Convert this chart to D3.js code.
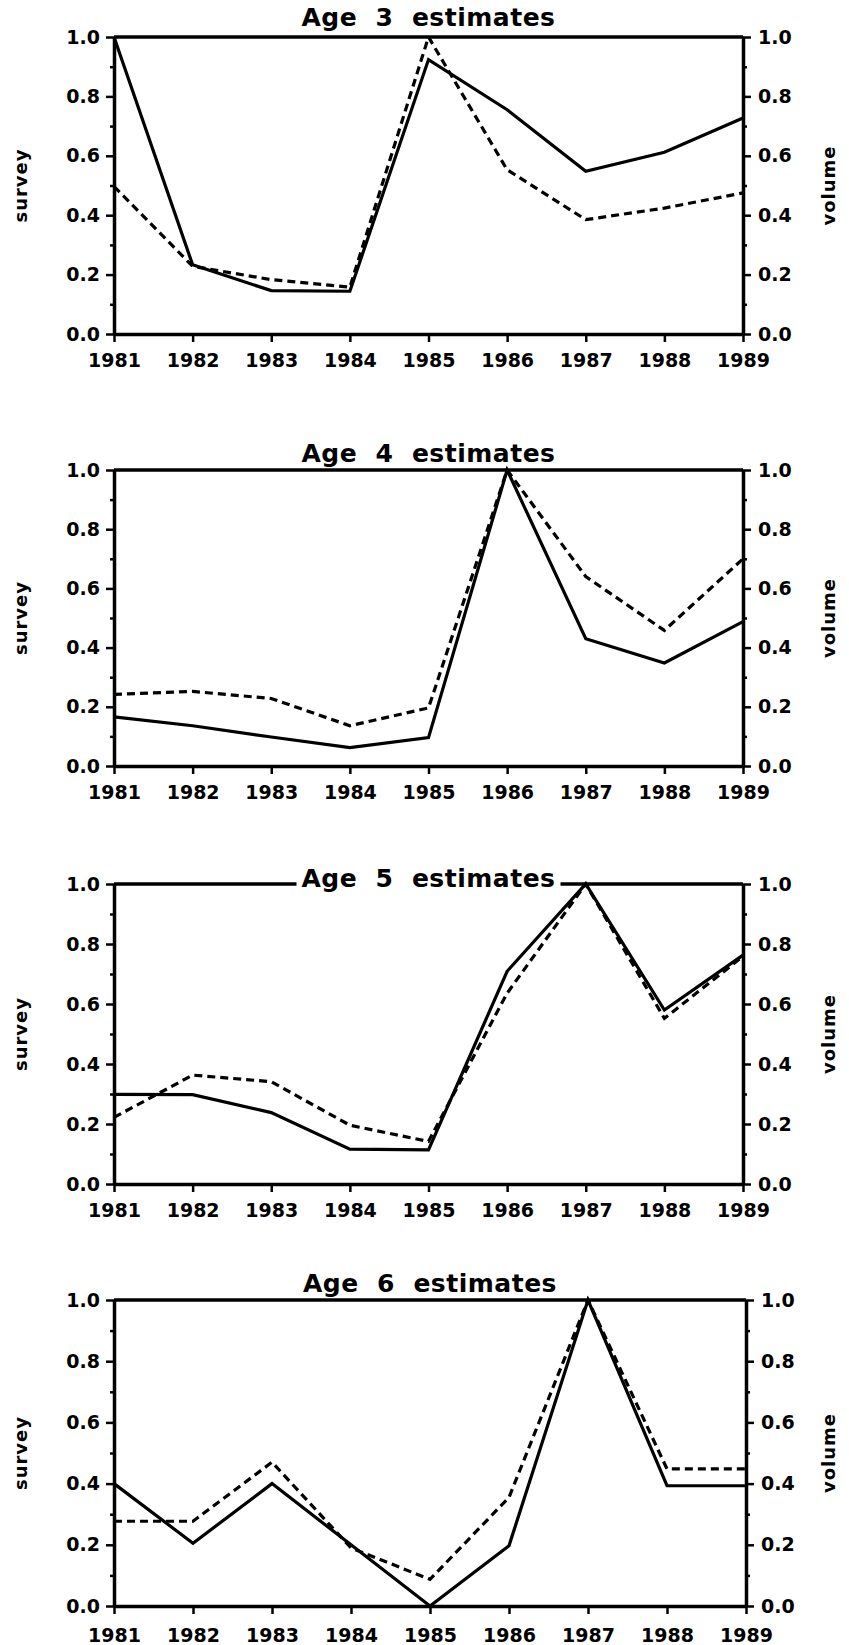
<!DOCTYPE html>
<html>
<head>
<meta charset="utf-8">
<script src="https://cdn.jsdelivr.net/npm/d3@7"></script>
<style>
  body { margin: 0; background: #fff; }
  text { font-family: 'DejaVu Sans', sans-serif; font-weight: bold; fill: #000; }
</style>
</head>
<body>
<svg width="849" height="1645"></svg>
<script>
let years = [1981, 1982, 1983, 1984, 1985, 1986, 1987, 1988, 1989]

let survey3 = [1.0, 0.233, 0.146, 0.144, 0.924, 0.755, 0.548, 0.612, 0.727]
let volume3 = [0.497, 0.228, 0.183, 0.158, 1.0, 0.553, 0.385, 0.424, 0.475]

let survey4 = [0.166, 0.136, 0.098, 0.062, 0.096, 1.0, 0.43, 0.348, 0.488]
let volume4 = [0.242, 0.252, 0.228, 0.136, 0.196, 1.0, 0.64, 0.458, 0.70]

let survey5 = [0.299, 0.298, 0.238, 0.116, 0.114, 0.709, 1.0, 0.58, 0.763]
let volume5 = [0.222, 0.363, 0.341, 0.196, 0.142, 0.636, 1.0, 0.552, 0.759]

let survey6 = [0.40, 0.205, 0.40, 0.20, 0.0, 0.197, 1.0, 0.393, 0.393]
let volume6 = [0.277, 0.277, 0.47, 0.19, 0.087, 0.355, 1.0, 0.448, 0.448]

let titles = ['Age  3  estimates', 'Age  4  estimates', 'Age  5  estimates', 'Age  6  estimates']
let yMajor = [0, 0.2, 0.4, 0.6, 0.8, 1.0]
let yMinor = [0.1, 0.3, 0.5, 0.7, 0.9]

let panels = [
  { title: titles[0], survey: survey3, volume: volume3 },
  { title: titles[1], survey: survey4, volume: volume4 },
  { title: titles[2], survey: survey5, volume: volume5 },
  { title: titles[3], survey: survey6, volume: volume6 }
]

// where each panel sits on the page
let layout = [
  { top: 37, bottom: 334, left: 114, right: 743, titleDy: -11, gap: false, pad: 12 },
  { top: 470, bottom: 766, left: 114, right: 743, titleDy: -8, gap: false, pad: 12 },
  { top: 884, bottom: 1184, left: 114, right: 743, titleDy: 3, gap: true, pad: 12 },
  { top: 1300, bottom: 1606, left: 114, right: 746, titleDy: -8, gap: false, pad: 15 }
]

let svg = d3.select('svg')
let fmt = d3.format('.1f')

panels.forEach((p, i) => {
  let L = layout[i]
  let g = svg.append('g')

  let xScale = d3.scaleLinear()
    .domain(d3.extent(years))
    .range([L.left, L.right])

  let yScale = d3.scaleLinear()
    .domain([0, 1])
    .range([L.bottom, L.top])

  let yScaleRight = d3.scaleLinear()
    .domain([0, 1])
    .range([L.bottom, L.top])

  // minor ticks
  g.append('g')
    .attr('transform', 'translate(' + [L.left, 0] + ')')
    .call(d3.axisLeft(yScale).tickValues(yMinor).tickSize(4).tickFormat(''))
    .call(s => s.select('.domain').remove())
  g.append('g')
    .attr('transform', 'translate(' + [L.right, 0] + ')')
    .call(d3.axisRight(yScaleRight).tickValues(yMinor).tickSize(4).tickFormat(''))
    .call(s => s.select('.domain').remove())

  let yAxis = d3.axisLeft(yScale).tickValues(yMajor).tickSize(8).tickSizeOuter(0)
    .tickPadding(6).tickFormat(fmt)
  let yAxisRight = d3.axisRight(yScaleRight).tickValues(yMajor).tickSize(8).tickSizeOuter(0)
    .tickPadding(7).tickFormat(fmt)
  let xAxis = d3.axisBottom(xScale).tickValues(years).tickSize(8).tickSizeOuter(0)
    .tickPadding(L.pad).tickFormat(d3.format('d'))

  g.append('g')
    .attr('transform', 'translate(' + [L.left, 0] + ')')
    .call(yAxis)
  g.append('g')
    .attr('transform', 'translate(' + [L.right, 0] + ')')
    .call(yAxisRight)
  g.append('g')
    .attr('transform', 'translate(' + [0, L.bottom] + ')')
    .call(xAxis)

  // top frame line
  g.append('line')
    .attr('x1', L.left).attr('x2', L.right)
    .attr('y1', yScale(1)).attr('y2', yScale(1))
    .attr('stroke', '#000').attr('stroke-width', 3.5)

  g.selectAll('.tick line').attr('stroke', '#000').attr('stroke-width', 2.5)
  g.selectAll('.domain').attr('stroke', '#000').attr('stroke-width', 3.5)
  g.selectAll('.tick text').attr('font-size', 19)

  let line = d3.line()
    .x((d, j) => xScale(years[j]))
    .y(d => yScale(d))

  g.append('path')
    .attr('d', line(p.volume))
    .attr('fill', 'none')
    .attr('stroke', '#000')
    .attr('stroke-width', 3.2)
    .attr('stroke-dasharray', '8,5')

  g.append('path')
    .attr('d', line(p.survey))
    .attr('fill', 'none')
    .attr('stroke', '#000')
    .attr('stroke-width', 3.2)

  // title
  let cx = (L.left + L.right) / 2
  let bg = g.append('rect').attr('fill', '#fff')
  let title = g.append('text')
    .attr('x', cx)
    .attr('y', L.top + L.titleDy)
    .attr('text-anchor', 'middle')
    .attr('font-size', 25)
    .attr('letter-spacing', 0.5)
    .style('white-space', 'pre')
    .text(p.title)
  if (L.gap) {
    let b = title.node().getBBox()
    bg.attr('x', b.x - 5).attr('y', b.y).attr('width', b.width + 10).attr('height', b.height)
  } else {
    bg.remove()
  }

  let mid = (L.top + L.bottom) / 2
  g.append('text')
    .attr('transform', 'translate(' + [27, mid] + ') rotate(-90)')
    .attr('text-anchor', 'middle')
    .attr('font-size', 18)
    .attr('letter-spacing', 1)
    .text('survey')
  g.append('text')
    .attr('transform', 'translate(' + [835, mid] + ') rotate(-90)')
    .attr('text-anchor', 'middle')
    .attr('font-size', 18)
    .attr('letter-spacing', 1)
    .text('volume')
})
</script>
</body>
</html>
